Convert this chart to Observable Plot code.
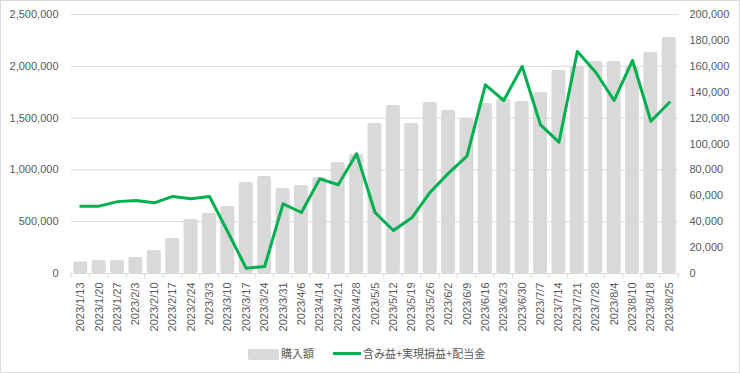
<!DOCTYPE html>
<html>
<head>
<meta charset="utf-8">
<script src="https://cdn.jsdelivr.net/npm/d3@7"></script>
<script src="https://cdn.jsdelivr.net/npm/@observablehq/plot@0.6"></script>
<style>
  body { margin: 0; background: #fff; }
  #wrap { position: relative; width: 738px; height: 371px; border: 1px solid #d9d9d9; overflow: hidden; font-family: "Liberation Sans", "Noto Sans CJK JP", sans-serif; }
  #chart svg { display: block; }
  .lg { position: absolute; font-size: 11px; color: #595959; line-height: 12px; font-family: "Noto Sans CJK JP", "Liberation Sans", sans-serif; }
</style>
</head>
<body>
<div id="wrap">
  <div id="chart"></div>
  <div class="lg" style="left:247px; top:348px; width:31px; height:11px; background:#d9d9d9; border-radius:2px;"></div>
  <div class="lg" style="left:280px; top:346px;">購入額</div>
  <div class="lg" style="left:332px; top:351px; width:28px; height:3px; background:#00b050;"></div>
  <div class="lg" style="left:362px; top:346px;">含み益+実現損益+配当金</div>
</div>
<script>
const dates = ["2023/1/13","2023/1/20","2023/1/27","2023/2/3","2023/2/10","2023/2/17","2023/2/24","2023/3/3","2023/3/10","2023/3/17","2023/3/24","2023/3/31","2023/4/6","2023/4/14","2023/4/21","2023/4/28","2023/5/5","2023/5/12","2023/5/19","2023/5/26","2023/6/2","2023/6/9","2023/6/16","2023/6/23","2023/6/30","2023/7/7","2023/7/14","2023/7/21","2023/7/28","2023/8/4","2023/8/10","2023/8/18","2023/8/25"];
const purchase = [112000,125000,125000,154000,222000,338000,521000,579000,647000,878000,936000,820000,849000,926000,1071000,1149000,1448000,1622000,1448000,1651000,1573000,1496000,1641000,1680000,1660000,1747000,1960000,2000000,2046000,2046000,2000000,2133000,2278000];
const profit = [52000,52000,55500,56400,54600,59500,57700,59500,32000,4000,5400,53800,47100,73100,68500,92400,47100,33200,43000,62800,77500,90600,145700,133600,159800,114800,101400,171400,155400,133600,164500,117600,132000];
const leftTicks = [0,500000,1000000,1500000,2000000,2500000];
const rightTicks = [0,20000,40000,60000,80000,100000,120000,140000,160000,180000,200000];
const seriesNames = ["購入額","含み益+実現損益+配当金"];

const ratio = 2500000 / 200000;
const rows = dates.map((d, i) => ({date: d, purchase: purchase[i], profit: profit[i]}));
const fmt = d3.format(",");

const tickMarks = (index, scales) => {
  const x = scales.x, y = scales.y;
  const g = d3.create("svg:g").attr("stroke", "#d9d9d9");
  const y0 = y(0);
  const step = x.step ? x.step() : x.bandwidth();
  const pos = dates.map(d => x(d) - (step - x.bandwidth()) / 2);
  pos.push(pos[pos.length - 1] + step);
  for (const p of pos) {
    g.append("line").attr("x1", p).attr("x2", p).attr("y1", y0).attr("y2", y0 + 5);
  }
  return g.node();
};

const chart = Plot.plot({
  width: 738,
  height: 338,
  marginLeft: 70,
  marginRight: 61,
  marginTop: 13,
  marginBottom: 66,
  style: {fontFamily: "'Liberation Sans', 'Noto Sans CJK JP', sans-serif", fontSize: "11px", color: "#595959", background: "#fff"},
  x: {type: "band", domain: dates, paddingInner: 0.24, paddingOuter: 0.12, round: false, label: null},
  y: {domain: [0, 2500000], label: null},
  marks: [
    Plot.gridY(leftTicks, {stroke: "#d9d9d9", strokeOpacity: 1}),
    Plot.barY(rows, {x: "date", y: "purchase", fill: "#d9d9d9", rx: 2}),
    Plot.ruleY([0], {stroke: "#d9d9d9"}),
    tickMarks,
    Plot.lineY(rows, {x: "date", y: d => d.profit * ratio, stroke: "#00b050", strokeWidth: 3, strokeLinejoin: "round"}),
    Plot.axisY(leftTicks, {anchor: "left", tickSize: 0, tickPadding: 13, tickFormat: fmt, fill: "#595959"}),
    Plot.axisY(rightTicks.map(v => v * ratio), {anchor: "right", tickSize: 0, tickPadding: 11, tickFormat: d => fmt(Math.round(d / ratio)), fill: "#595959"}),
    Plot.axisX({tickRotate: -90, tickSize: 0, tickPadding: 9, fill: "#595959"})
  ]
});
document.getElementById("chart").appendChild(chart);
</script>
</body>
</html>
